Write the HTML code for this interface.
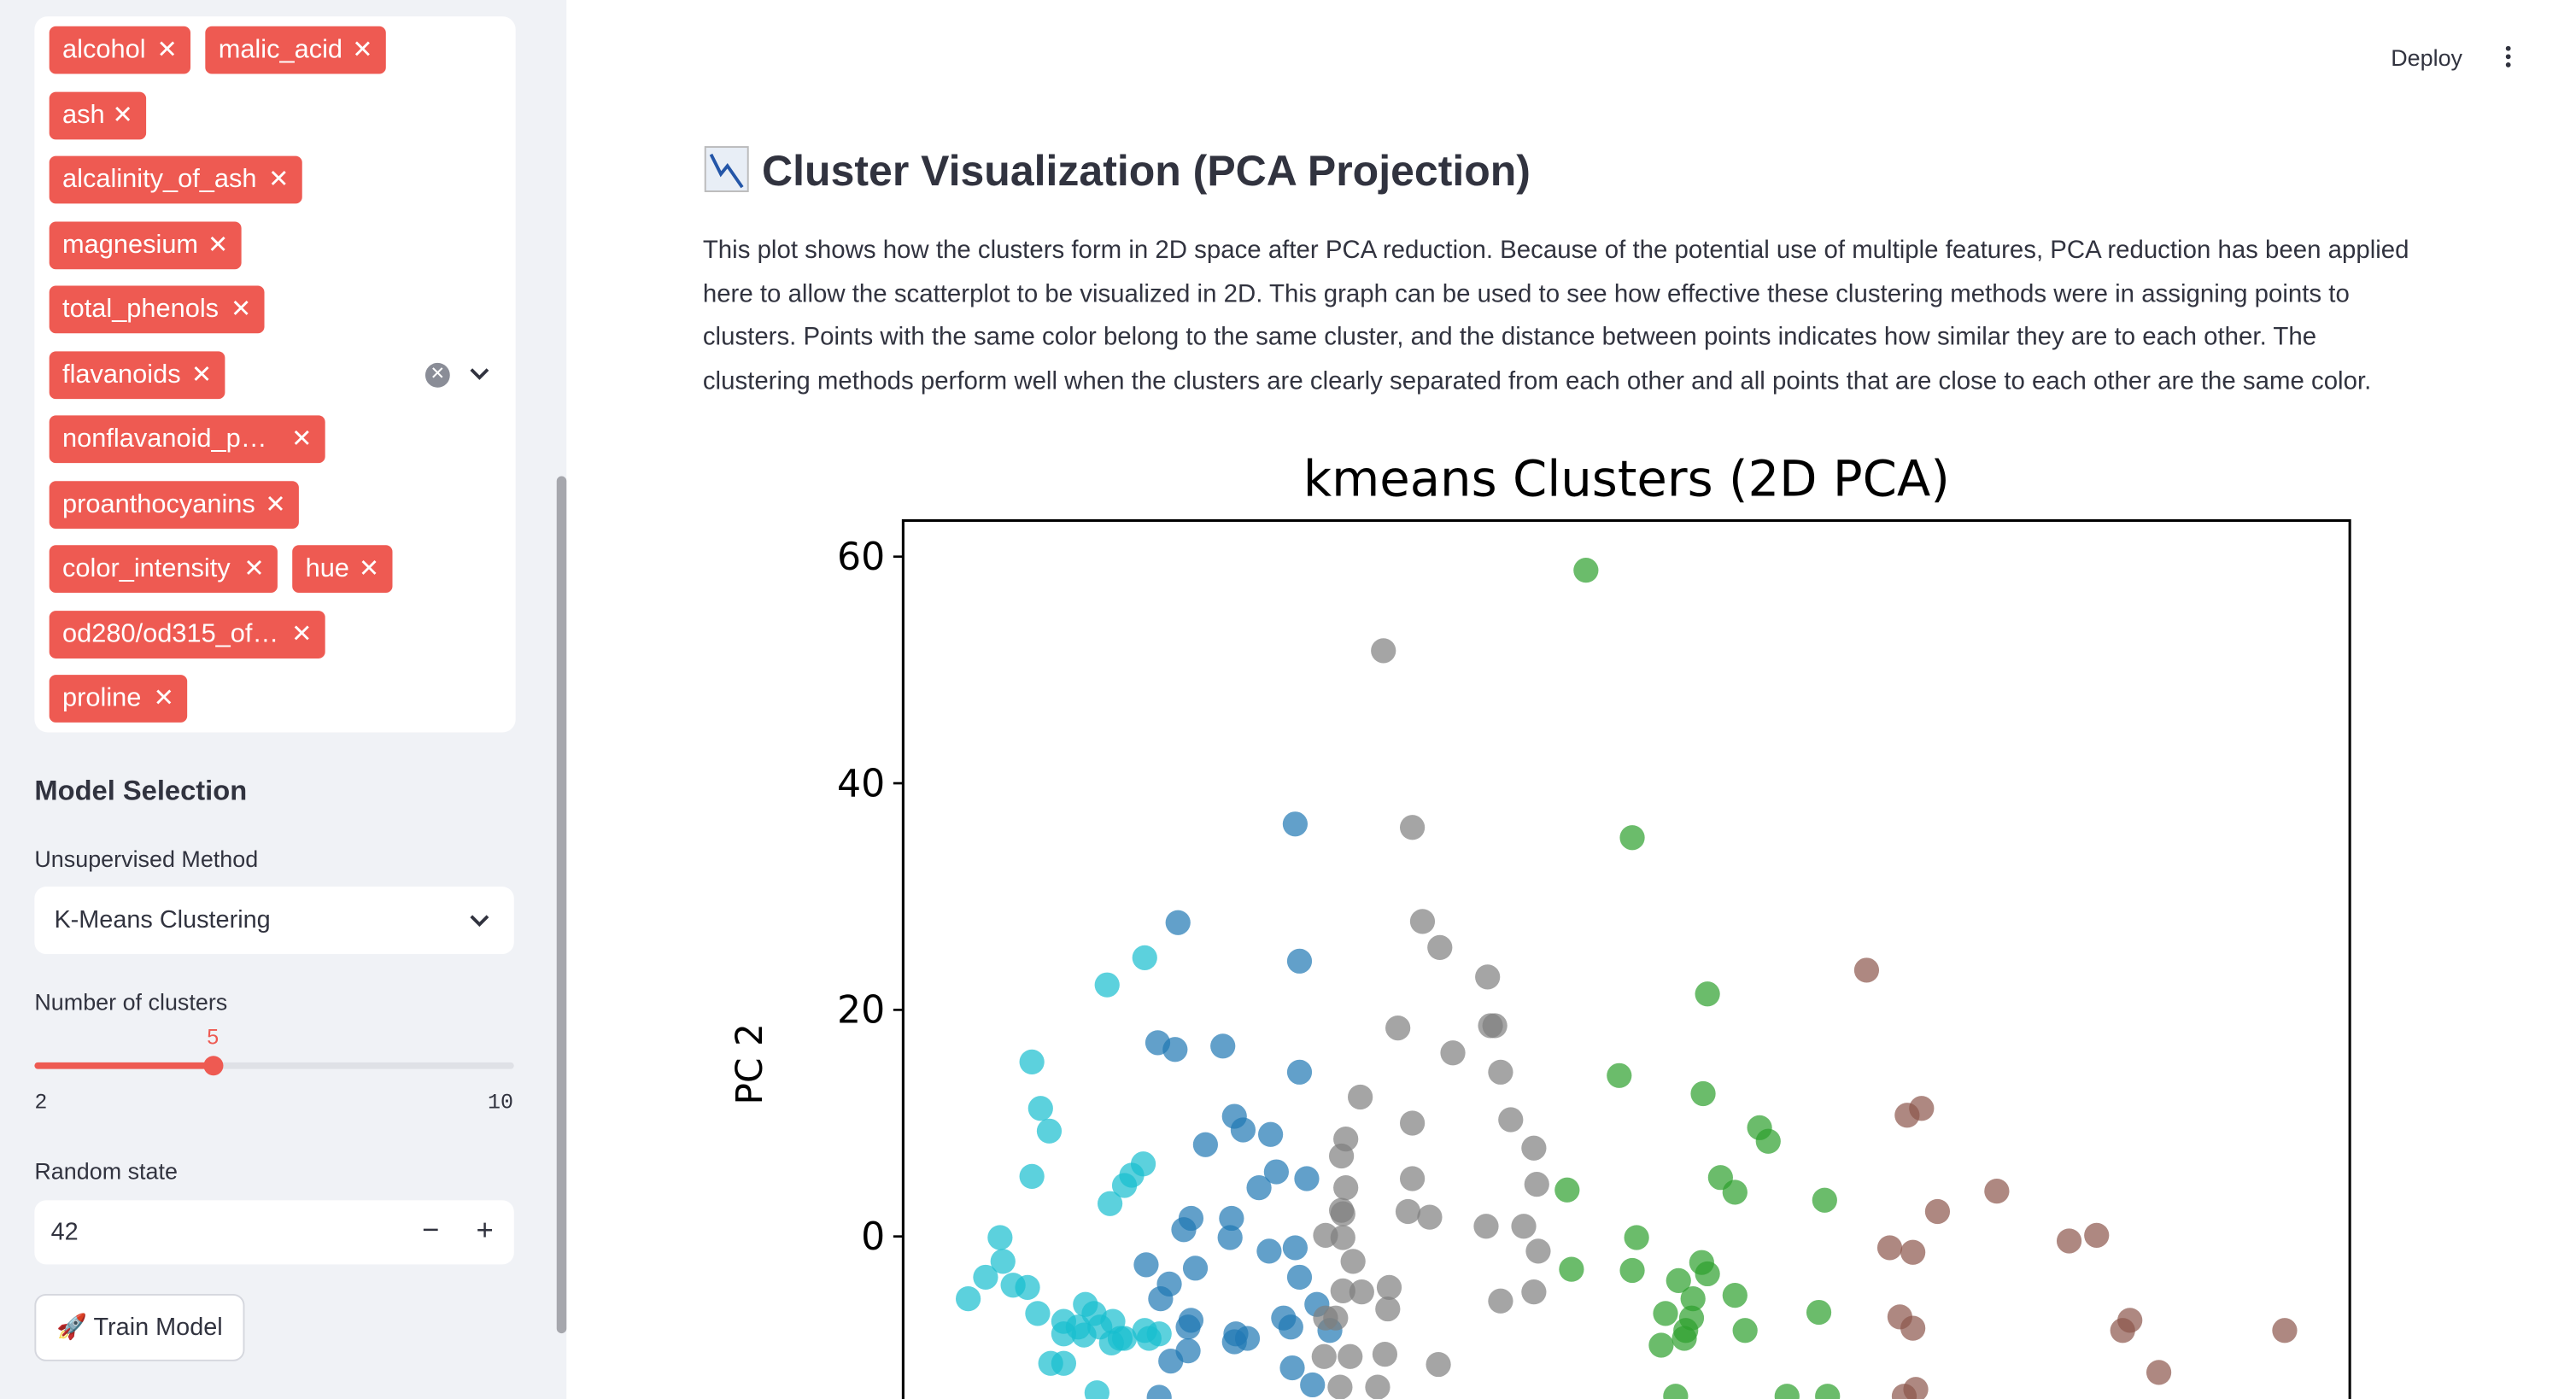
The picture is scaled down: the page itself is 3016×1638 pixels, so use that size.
<!DOCTYPE html>
<html><head><meta charset="utf-8"><style>
html,body{margin:0;padding:0;width:3016px;height:1638px;overflow:hidden;background:#fff;}
#wrap{position:absolute;left:0;top:0;width:1569px;height:852px;transform:scale(1.92254);transform-origin:0 0;font-family:"Liberation Sans",sans-serif;color:#31333f;overflow:hidden;}
.abs{position:absolute;}
#sidebar{left:0;top:0;width:345px;height:852px;background:#f0f2f6;}
#tagbox{left:21px;top:10px;width:293px;height:436px;background:#fff;border-radius:8px;}
.tag{position:absolute;height:29px;background:#ee5a52;color:#fff;border-radius:4px;font-size:16px;line-height:29px;padding-left:8px;box-sizing:border-box;white-space:nowrap;}
.tag span{position:absolute;right:8px;top:0;font-size:15px;}
.lbl{font-size:14px;color:#31333f;}
.box{background:#fff;border-radius:7px;}
</style></head><body>
<div id="wrap">
<div id="sidebar" class="abs">
 <div id="tagbox" class="abs"></div>
 <div class="abs" style="left:259px;top:221px;width:15px;height:15px;border-radius:50%;background:#8a8d97;color:#fff;font-size:11px;line-height:15px;text-align:center">✕</div>
 <svg class="abs" style="left:285px;top:222px" width="14" height="12"><path d="M2 3 L7 8 L12 3" stroke="#31333f" stroke-width="2" fill="none"/></svg>
 <div class="abs" style="left:21px;top:472px;font-size:17px;font-weight:bold">Model Selection</div>
 <div class="abs lbl" style="left:21px;top:515px">Unsupervised Method</div>
 <div class="abs box" style="left:21px;top:540px;width:292px;height:41px">
  <div class="abs" style="left:12px;top:12px;font-size:15px">K-Means Clustering</div>
  <svg class="abs" style="left:264px;top:15px" width="14" height="12"><path d="M2 3 L7 8 L12 3" stroke="#31333f" stroke-width="2" fill="none"/></svg>
 </div>
 <div class="abs lbl" style="left:21px;top:602px">Number of clusters</div>
 <div class="abs" style="left:126px;top:624px;font-size:13px;color:#ee5a52">5</div>
 <div class="abs" style="left:21px;top:647px;width:292px;height:4px;background:#dfe1e6;border-radius:2px"></div>
 <div class="abs" style="left:21px;top:647px;width:109px;height:4px;background:#ee5a52;border-radius:2px"></div>
 <div class="abs" style="left:124px;top:643px;width:12px;height:12px;border-radius:50%;background:#ee5a52"></div>
 <div class="abs" style="left:21px;top:664px;font-size:13px;font-family:'Liberation Mono',monospace">2</div>
 <div class="abs" style="left:297px;top:664px;font-size:13px;font-family:'Liberation Mono',monospace">10</div>
 <div class="abs lbl" style="left:21px;top:705px">Random state</div>
 <div class="abs box" style="left:21px;top:731px;width:292px;height:39px">
  <div class="abs" style="left:10px;top:11px;font-size:15px">42</div>
  <div class="abs" style="left:236px;top:8px;font-size:18px">−</div>
  <div class="abs" style="left:269px;top:8px;font-size:18px">+</div>
 </div>
 <div class="abs" style="left:21px;top:788px;width:126px;height:39px;background:#fff;border:1px solid #d5d7de;border-radius:7px;font-size:15px;line-height:39px;text-align:center">🚀 Train Model</div>
 <div class="abs" style="left:339px;top:290px;width:6px;height:522px;background:#a6a7ad;border-radius:3px"></div>
</div>
<div class="abs" style="left:1456px;top:27px;font-size:14px">Deploy</div>
<div class="abs" style="left:1526px;top:28px;width:3px;line-height:5px;font-size:0"><div style="width:3px;height:3px;background:#31333f;border-radius:50%;margin-bottom:2px"></div><div style="width:3px;height:3px;background:#31333f;border-radius:50%;margin-bottom:2px"></div><div style="width:3px;height:3px;background:#31333f;border-radius:50%"></div></div>
<div class="abs" style="left:429px;top:89px;font-size:26px;font-weight:bold;white-space:nowrap"><span style="display:inline-block;width:25px;height:26px;background:#e8eef6;border:1px solid #bbb;vertical-align:-4px;margin-right:8px;position:relative"><svg width="25" height="26" style="position:absolute;left:0;top:0"><path d="M3 4 L9 16 L13 11 L22 24" stroke="#2456a8" stroke-width="2" fill="none"/></svg></span>Cluster Visualization (PCA Projection)</div>
<div class="abs" style="left:428px;top:140px;width:1050px;font-size:15.3px;line-height:26.5px">This plot shows how the clusters form in 2D space after PCA reduction. Because of the potential use of multiple features, PCA reduction has been applied here to allow the scatterplot to be visualized in 2D. This graph can be used to see how effective these clustering methods were in assigning points to clusters. Points with the same color belong to the same cluster, and the distance between points indicates how similar they are to each other. The clustering methods perform well when the clusters are clearly separated from each other and all points that are close to each other are the same color.</div>
<svg id="chart" class="abs" style="left:0;top:0" width="1569" height="852"></svg>
</div>
<script>
const tagNames=["alcohol","malic_acid","ash","alcalinity_of_ash","magnesium","total_phenols","flavanoids","nonflavanoid_p…","proanthocyanins","color_intensity","hue","od280/od315_of…","proline"];
const tagPos=[[30,16,86],[125,16,110],[30,56,59],[30,95,154],[30,135,117],[30,174,131],[30,214,107],[30,253,168],[30,293,152],[30,332,139],[178,332,61],[30,372,168],[30,411,84]];
const sb=document.getElementById('sidebar');
tagNames.forEach((t,i)=>{const d=document.createElement('div');d.className='tag';


d.style.left=tagPos[i][0]+'px';d.style.top=tagPos[i][1]+'px';d.style.width=tagPos[i][2]+'px';
d.innerHTML=t+'<span>✕</span>';sb.appendChild(d);});

const clusterNames=["cyan","blue","gray","green","brown"];
const clusterColors=["#17becf","#1f77b4","#7f7f7f","#2ca02c","#8c564b"];
const yTicks=[0,20,40,60];
const cyanX=[14.1,16.7,8.9,9.5,10.1,8.9,16.6,15.8,15.3,14.3,6.7,6.9,5.7,4.5,7.6,8.6,9.3,11.1,12.6,13.2,12.1,11.1,13.6,14.5,12.5,15.0,14.4,16.7,15.3,10.2,11.1,13.4,17.0,17.7];
const cyanY=[22.2,24.6,15.4,11.3,9.3,5.3,6.4,5.4,4.5,2.9,-0.1,-2.2,-3.6,-5.5,-4.3,-4.5,-6.8,-7.5,-6.0,-6.8,-8.0,-8.6,-8.0,-7.5,-8.7,-9.0,-9.4,-8.3,-9.0,-11.2,-11.2,-13.8,-9.0,-8.6];
const blueX=[27.1,19.0,27.4,17.6,18.8,22.1,27.4,22.9,23.5,25.4,20.9,25.8,27.9,24.6,19.9,22.7,19.4,22.6,25.3,27.1,27.4,16.8,20.2,18.4,17.8,28.6,29.5,23.0,19.9,19.7,22.9,26.3,26.8,23.8,18.5,19.7,26.9,28.3,17.7];
const blueY=[36.4,27.7,24.3,17.1,16.5,16.8,14.5,10.6,9.4,9.0,8.1,5.7,5.1,4.3,1.6,1.6,0.6,-0.1,-1.3,-1.0,-3.6,-2.5,-2.8,-4.2,-5.5,-6.0,-8.3,-8.6,-7.4,-8.0,-9.3,-7.2,-8.0,-9.0,-11.0,-10.1,-11.6,-13.1,-14.2];
const grayX=[33.2,35.2,35.9,37.1,40.4,34.2,40.6,40.9,38.0,41.3,31.6,35.2,42.0,30.6,30.3,43.6,30.6,35.2,43.8,30.3,30.4,34.9,36.4,40.3,42.9,29.2,30.4,43.9,31.1,30.4,31.7,33.6,41.3,43.6,29.9,29.2,33.5,30.9,33.3,37.0,29.1,30.2,32.8];
const grayY=[51.7,36.1,27.8,25.5,22.9,18.4,18.6,18.6,16.2,14.5,12.3,10.0,10.3,8.6,7.1,7.8,4.3,5.1,4.6,2.3,2.0,2.2,1.7,0.9,0.9,0.1,-0.1,-1.3,-2.2,-4.8,-4.9,-4.5,-5.7,-4.9,-7.2,-7.2,-6.4,-10.6,-10.4,-11.3,-10.6,-13.3,-13.3];
const greenX=[47.2,50.4,55.6,49.5,55.3,59.2,59.8,56.5,57.5,45.9,63.7,50.7,46.2,50.4,55.2,53.6,55.6,54.6,57.5,52.7,54.5,54.1,52.4,54.0,58.2,63.3,53.4,61.1,63.9];
const greenY=[58.8,35.2,21.4,14.2,12.6,9.6,8.4,5.2,3.9,4.1,3.2,-0.1,-2.9,-3.0,-2.3,-3.9,-3.3,-5.5,-5.2,-6.8,-7.2,-8.3,-9.6,-9.0,-8.3,-6.7,-14.1,-14.1,-14.1];
const brownX=[66.6,70.4,69.4,71.5,75.6,68.2,69.8,80.6,82.5,68.9,69.8,84.8,84.3,86.8,95.5,70.0,69.2];
const brownY=[23.5,11.3,10.7,2.2,4.0,-1.0,-1.4,-0.4,0.1,-7.1,-8.1,-7.4,-8.3,-12.0,-8.3,-13.5,-14.1];
const xs=[cyanX,blueX,grayX,greenX,brownX], ys=[cyanY,blueY,grayY,greenY,brownY];

const L=550,R=1431,T=317,B=900;
const xScale=v=>L+v/100*(R-L);
const yScale=v=>753-v/20*138;
const NS='http://www.w3.org/2000/svg';
const svg=document.getElementById('chart');
function mk(tag,attrs,parent){const e=document.createElementNS(NS,tag);for(const k in attrs)e.setAttribute(k,attrs[k]);(parent||svg).appendChild(e);return e;}
const title=mk('text',{x:(L+R)/2,y:302,'text-anchor':'middle','font-size':30,'font-family':'DejaVu Sans, sans-serif',fill:'#000'});
title.textContent='kmeans Clusters (2D PCA)';


const yl=mk('text',{x:0,y:0,'text-anchor':'middle','font-size':22,'font-family':'DejaVu Sans, sans-serif',fill:'#000',transform:'translate(464,648) rotate(-90)'});
yl.textContent='PC 2';


const g=mk('g',{});


xs.forEach((arr,ci)=>{arr.forEach((x,i)=>{
 const c=mk('circle',{cx:xScale(x),cy:yScale(ys[ci][i]),r:7.6,fill:clusterColors[ci],'fill-opacity':0.7},g);
 
 
});});
const frame=mk('rect',{x:L,y:T,width:R-L,height:B-T,fill:'none',stroke:'#000','stroke-width':1.6});


yTicks.forEach(v=>{
 const y=yScale(v);
 const tk=mk('line',{x1:L-6,x2:L,y1:y,y2:y,stroke:'#000','stroke-width':1.4});
 
 
 const t=mk('text',{x:L-11,y:y+8,'text-anchor':'end','font-size':23,'font-family':'DejaVu Sans, sans-serif',fill:'#000'});
 t.textContent=String(v);
 
 
});
</script>
</body></html>
